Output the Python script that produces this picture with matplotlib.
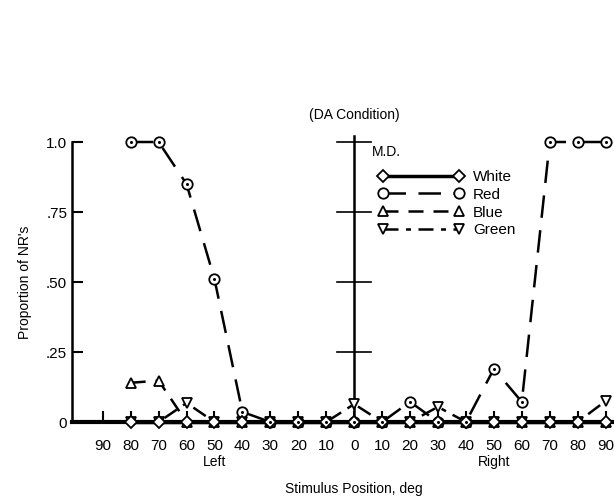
import numpy as np
import matplotlib.pyplot as plt
import matplotlib.transforms as mtransforms

plt.rcParams['font.family'] = ['Liberation Sans', 'DejaVu Sans']

# stimulus positions, negative = left field, positive = right field
positions = [-80, -70, -60, -50, -40, -30, -20, -10, 0, 10, 20, 30, 40, 50, 60, 70, 80, 90]
white = [0, 0, 0, 0, 0, 0, 0, 0, 0, 0, 0, 0, 0, 0, 0, 0, 0, 0]
red = [1.0, 1.0, 0.85, 0.51, 0.036, 0, 0, 0, 0, 0, 0.072, 0, 0, 0.19, 0.072, 1.0, 1.0, 1.0]
blue = [0.14, 0.148, 0, 0, 0, 0, 0, 0, 0, 0, 0, 0, 0, 0, 0, 0, 0, 0]
green = [0, 0, 0.068, 0, 0, 0, 0, 0, 0.064, 0, 0, 0.054, 0, 0, 0, 0, 0, 0.075]

xtick_pos = [-90, -80, -70, -60, -50, -40, -30, -20, -10, 0, 10, 20, 30, 40, 50, 60, 70, 80, 90]
xtick_lab = ['90', '80', '70', '60', '50', '40', '30', '20', '10', '0',
             '10', '20', '30', '40', '50', '60', '70', '80', '90']
ytick_pos = [0, 0.25, 0.5, 0.75, 1.0]
ytick_lab = ['0', '.25', '.50', '.75', '1.0']

fig = plt.figure(figsize=(6.14, 4.99), dpi=100)
ax = fig.add_axes([72/614, 77/499, 542/614, 280/499])

mk = dict(ms=7.5, mfc='white', mec='black', mew=1.3, color='black', lw=1.8, clip_on=False)
ax.plot(positions, green, marker='v', dashes=(6, 3, 2, 3), label='Green', zorder=3, **mk)
ax.plot(positions, blue, marker='^', dashes=(6, 4), label='Blue', zorder=4, **mk)
ax.plot(positions, red, marker='o', dashes=(9, 5), label='Red', zorder=5, **mk)
ax.plot(positions, white, marker='D', ls='-', label='White', zorder=6,
        **{**mk, 'ms': 6, 'lw': 2.5})
# little dot inside the circles, as in the print
ax.plot(positions, red, ls='none', marker='o', ms=1.2, color='black', zorder=7, clip_on=False)

# central vertical line with cross ticks
ax.plot([0, 0], [0, 1.02], color='black', lw=1.8, clip_on=False, zorder=2)
for yv in ytick_pos[1:]:
    ax.plot([-6, 6], [yv, yv], color='black', lw=1.2, clip_on=False, zorder=2)

ax.set_xlim(-101, 93)
ax.set_ylim(0, 1.0)
ax.spines['top'].set_visible(False)
ax.spines['right'].set_visible(False)
ax.spines['left'].set_linewidth(1.8)
ax.spines['bottom'].set_linewidth(3)
ax.set_xticks(xtick_pos)
ax.set_xticklabels(xtick_lab)
ax.set_yticks(ytick_pos)
ax.set_yticklabels(ytick_lab)
ax.tick_params(axis='both', direction='in', length=8, width=1.5, labelsize=11)
ax.tick_params(axis='x', pad=12)

trans = mtransforms.blended_transform_factory(ax.transData, ax.transAxes)
ax.text(-50, -0.143, 'Left', transform=trans, ha='center', va='center', fontsize=10)
ax.text(50, -0.143, 'Right', transform=trans, ha='center', va='center', fontsize=10)
ax.text(0, -0.24, 'Stimulus Position, deg', transform=trans, ha='center', va='center', fontsize=10)
ax.text(0, 1.095, '(DA Condition)', transform=trans, ha='center', va='center', fontsize=10)
ax.text(6.5, 0.965, 'M.D.', transform=trans, ha='left', va='center', fontsize=10)
ax.set_ylabel("Proportion of NR's", fontsize=10, labelpad=10)

handles, labels = ax.get_legend_handles_labels()
order = [3, 2, 1, 0]
ax.legend([handles[i] for i in order], [labels[i] for i in order],
          loc='upper left', bbox_to_anchor=(0.565, 0.9),
          frameon=False, numpoints=2, handlelength=5.6, fontsize=11,
          labelspacing=0.25, handletextpad=0.6, borderaxespad=0, borderpad=0)

fig.savefig('out.png', dpi=100)
